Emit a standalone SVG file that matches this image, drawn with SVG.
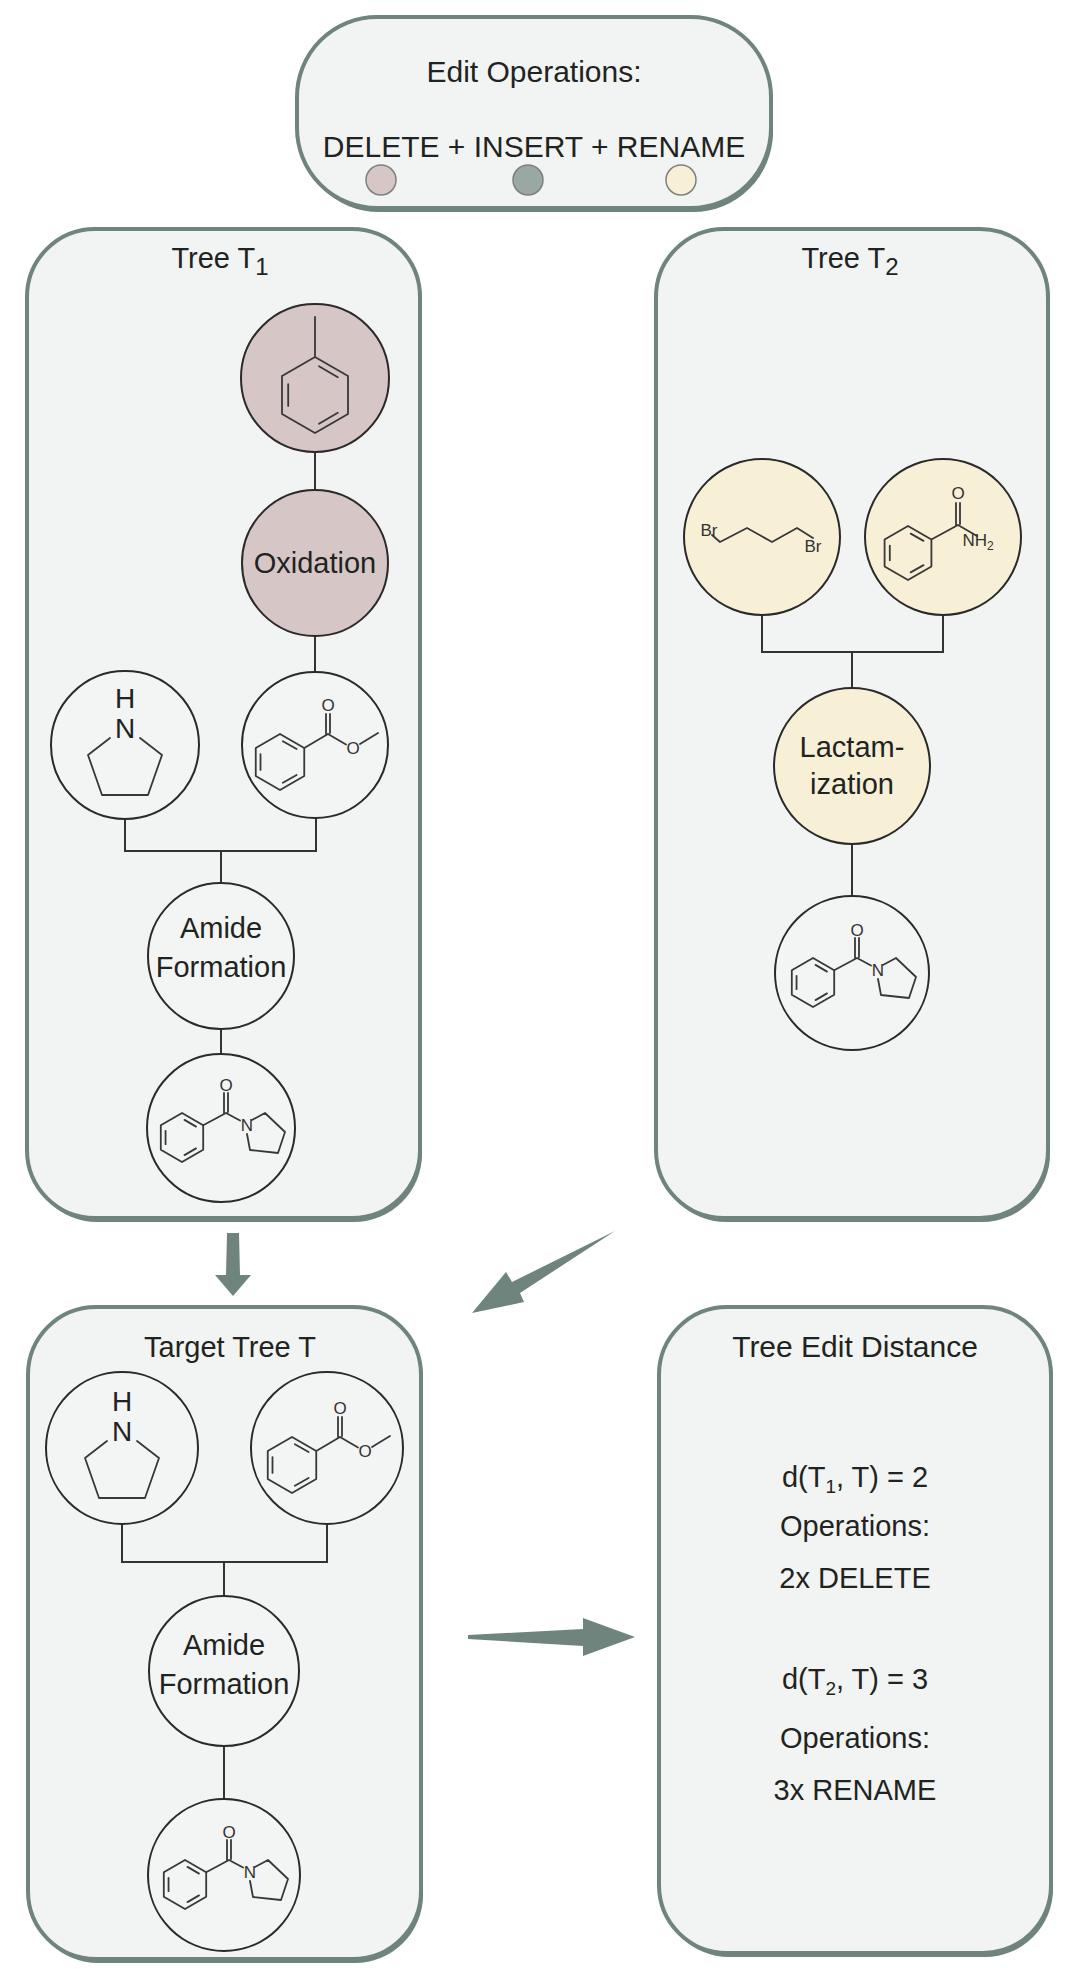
<svg xmlns="http://www.w3.org/2000/svg" width="1080" height="1980" viewBox="0 0 1080 1980">
<style>
.panel{fill:#f2f3f3;stroke:#6e847c;stroke-width:4}
.shadow{fill:#6e847c}
.node{stroke:#2a2a2a;stroke-width:2}
.plain{fill:#f3f4f4}
.del{fill:#d6c6c6}
.ren{fill:#f7f0d6}
.ins{fill:#9aa8a4}
.dot{stroke:#7f7f7f;stroke-width:1.5}
.edge{fill:none;stroke:#333;stroke-width:2}
.bond{fill:none;stroke:#383838;stroke-width:1.8;stroke-linejoin:round;stroke-linecap:round}
.t{font-family:"Liberation Sans",Arial,sans-serif;fill:#1f2421;text-anchor:middle}
.title{font-size:29px}
.lbl{font-size:29px}
.atom{font-family:"Liberation Sans",Arial,sans-serif;font-size:17px;fill:#333;text-anchor:middle}
.atomL{font-family:"Liberation Sans",Arial,sans-serif;font-size:28px;fill:#222;text-anchor:middle}
.arrow{fill:#6e847c}
</style>
<defs>
<path id="mol-toluene" class="bond" d="M0,-21 L33,-2 L33,36 L0,55 L-33,36 L-33,-2 Z M0,-21 L0,-61 M4,-11.7 L22.8,-0.8 M-26.8,27.9 L-26.8,6.1 M4,45.7 L22.8,34.8"/>
<path id="mol-pyrr" class="bond" d="M-15,-7 L-37,10 L-23,50 L23,50 L37,10 L15,-7"/>
<path id="mol-mb" class="bond" d="M-35,-11 L-10.75,3 L-10.75,31 L-35,45 L-59.25,31 L-59.25,3 Z M-32.1,-3.8 L-18.4,4.05 M-32.1,37.8 L-18.4,29.95 M-54.5,24.9 L-54.5,9.1 M-10.75,3 L13,-11 M11,-10 L11,-31 M15,-12 L15,-31 M13,-11 L31,-0.5 M45,-1 L63,-12"/>
<path id="mol-bp" class="bond" d="M-39,-15 L-17.8,-2.75 L-17.8,21.75 L-39,34 L-60.2,21.75 L-60.2,-2.75 Z M-36.5,-8.1 L-25,-1.4 M-36.5,27.1 L-25,20.4 M-55.45,16.15 L-55.45,2.85 M-17.8,-2.75 L5,-15 M3,-14 L3,-35 M7,-16 L7,-35 M5,-15 L19,-7.5 M31,-8 L44,-15 L64,4 L57,25 L29,22 L26,6"/>
<path id="mol-bz" class="bond" d="M-35,-11 L-11.6,2.5 L-11.6,29.5 L-35,43 L-58.4,29.5 L-58.4,2.5 Z M-32.3,-3.4 L-19.5,3.9 M-32.3,35.4 L-19.5,28.1 M-53.2,23.35 L-53.2,8.65 M-11.6,2.5 L15,-12 M13,-11 L13,-34 M17,-13 L17,-34 M15,-12 L34,-1"/>
<path id="mol-db" class="bond" d="M-50,-2 L-42,5 L-15,-9 L10,5 L35,-9 L51,1"/>
</defs>
<rect x="0" y="0" width="1080" height="1980" fill="#ffffff"/>

<!-- panels -->
<g id="edit-operations">
<rect class="shadow" x="299" y="21" width="474" height="191" rx="80"/>
<rect class="panel" x="297" y="17" width="474" height="191" rx="80"/>
<text class="t" x="534" y="82" font-size="30">Edit Operations:</text>
<text class="t" x="534" y="157" font-size="30">DELETE + INSERT + RENAME</text>
<circle class="dot del" cx="381" cy="180" r="15"/>
<circle class="dot ins" cx="528" cy="180" r="15"/>
<circle class="dot ren" cx="681" cy="180" r="15"/>
</g>

<g id="panel-t1">
<rect class="shadow" x="29" y="233" width="393" height="989" rx="68"/>
<rect class="panel" x="27" y="229" width="393" height="989" rx="68"/>
<text class="t title" x="220" y="268">Tree T<tspan font-size="24" dy="7">1</tspan></text>
</g>
<g id="panel-t2">
<rect class="shadow" x="658" y="233" width="392" height="989" rx="68"/>
<rect class="panel" x="656" y="229" width="392" height="989" rx="68"/>
<text class="t title" x="850" y="268">Tree T<tspan font-size="24" dy="7">2</tspan></text>
</g>
<g id="panel-target">
<rect class="shadow" x="30" y="1311" width="393" height="652" rx="68"/>
<rect class="panel" x="28" y="1307" width="393" height="652" rx="68"/>
<text class="t title" x="230" y="1357">Target Tree T</text>
</g>
<g id="panel-ted">
<rect class="shadow" x="661" y="1311" width="392" height="646" rx="68"/>
<rect class="panel" x="659" y="1307" width="392" height="646" rx="68"/>
<text class="t" x="855" y="1357" font-size="30">Tree Edit Distance</text>
<text class="t lbl" x="855" y="1487" font-size="30">d(T<tspan font-size="19" dy="6">1</tspan><tspan dy="-6">, T) = 2</tspan></text>
<text class="t lbl" x="855" y="1536">Operations:</text>
<text class="t lbl" x="855" y="1588">2x DELETE</text>
<text class="t lbl" x="855" y="1689" font-size="30">d(T<tspan font-size="19" dy="6">2</tspan><tspan dy="-6">, T) = 3</tspan></text>
<text class="t lbl" x="855" y="1748">Operations:</text>
<text class="t lbl" x="855" y="1800">3x RENAME</text>
</g>

<!-- connectors -->
<g id="connectors">
<path class="edge" d="M315,452 L315,490 M315,636 L315,672 M125,819 L125,851 L316,851 L316,818 M221,851 L221,883 M221,1029 L221,1054"/>
<path class="edge" d="M762,615 L762,652 L943,652 L943,615 M852,652 L852,688 M852,844 L852,896"/>
<path class="edge" d="M122,1524 L122,1562 L327,1562 L327,1524 M224,1562 L224,1596 M224,1746 L224,1799"/>
<polygon class="arrow" points="227,1233 239,1233 240,1275 251,1275 233,1296 215,1275 226,1275"/>
<polygon class="arrow" points="615,1231 512,1282 506,1272 472,1313 524,1302 520,1293"/>
<polygon class="arrow" points="468,1635 583,1629 583,1618 635,1637 583,1656 583,1646 468,1639"/>
</g>

<!-- Tree T1 nodes -->
<g id="t1-toluene">
<circle class="node del" cx="315" cy="378" r="74"/>
<use href="#mol-toluene" x="315" y="378"/>
</g>
<g id="t1-oxidation">
<circle class="node del" cx="315" cy="563" r="73"/>
<text class="t lbl" x="315" y="573">Oxidation</text>
</g>
<g id="t1-pyrrolidine">
<circle class="node plain" cx="125" cy="745" r="74"/>
<use href="#mol-pyrr" x="125" y="745"/>
<text class="atomL" x="125" y="738">N</text>
<text class="atomL" x="125" y="708">H</text>
</g>
<g id="t1-methylbenzoate">
<circle class="node plain" cx="315" cy="745" r="73"/>
<use href="#mol-mb" x="315" y="745"/>
<text class="atom" x="328" y="711">O</text>
<text class="atom" x="353" y="754">O</text>
</g>
<g id="t1-amide">
<circle class="node plain" cx="221" cy="956" r="73"/>
<text class="t lbl" x="221" y="938">Amide</text>
<text class="t lbl" x="221" y="977">Formation</text>
</g>
<g id="t1-product">
<circle class="node plain" cx="221" cy="1128" r="74"/>
<use href="#mol-bp" x="221" y="1128"/>
<text class="atom" x="226" y="1091" font-size="16">O</text>
<text class="atom" x="247" y="1131" font-size="16">N</text>
</g>

<!-- Tree T2 nodes -->
<g id="t2-dibromobutane">
<circle class="node ren" cx="762" cy="537" r="78"/>
<use href="#mol-db" x="762" y="537"/>
<text class="atom" x="709" y="536" text-anchor="end" font-size="18">Br</text>
<text class="atom" x="813" y="552" text-anchor="start" font-size="18">Br</text>
</g>
<g id="t2-benzamide">
<circle class="node ren" cx="943" cy="537" r="78"/>
<use href="#mol-bz" x="943" y="537"/>
<text class="atom" x="958" y="499" font-size="18">O</text>
<text class="atom" x="978" y="546" text-anchor="start" font-size="18">NH<tspan font-size="12" dy="4">2</tspan></text>
</g>
<g id="t2-lactamization">
<circle class="node ren" cx="852" cy="766" r="78"/>
<text class="t lbl" x="852" y="757">Lactam-</text>
<text class="t lbl" x="852" y="794">ization</text>
</g>
<g id="t2-product">
<circle class="node plain" cx="852" cy="973" r="77"/>
<use href="#mol-bp" x="852" y="973"/>
<text class="atom" x="857" y="936" font-size="16">O</text>
<text class="atom" x="878" y="976" font-size="16">N</text>
</g>

<!-- Target tree nodes -->
<g id="target-pyrrolidine">
<circle class="node plain" cx="122" cy="1448" r="76"/>
<use href="#mol-pyrr" x="122" y="1448"/>
<text class="atomL" x="122" y="1441">N</text>
<text class="atomL" x="122" y="1411">H</text>
</g>
<g id="target-methylbenzoate">
<circle class="node plain" cx="327" cy="1448" r="76"/>
<use href="#mol-mb" x="327" y="1448"/>
<text class="atom" x="340" y="1414">O</text>
<text class="atom" x="365" y="1457">O</text>
</g>
<g id="target-amide">
<circle class="node plain" cx="224" cy="1671" r="75"/>
<text class="t lbl" x="224" y="1655">Amide</text>
<text class="t lbl" x="224" y="1694">Formation</text>
</g>
<g id="target-product">
<circle class="node plain" cx="224" cy="1875" r="76"/>
<use href="#mol-bp" x="224" y="1875"/>
<text class="atom" x="229" y="1838" font-size="16">O</text>
<text class="atom" x="250" y="1878" font-size="16">N</text>
</g>
</svg>
